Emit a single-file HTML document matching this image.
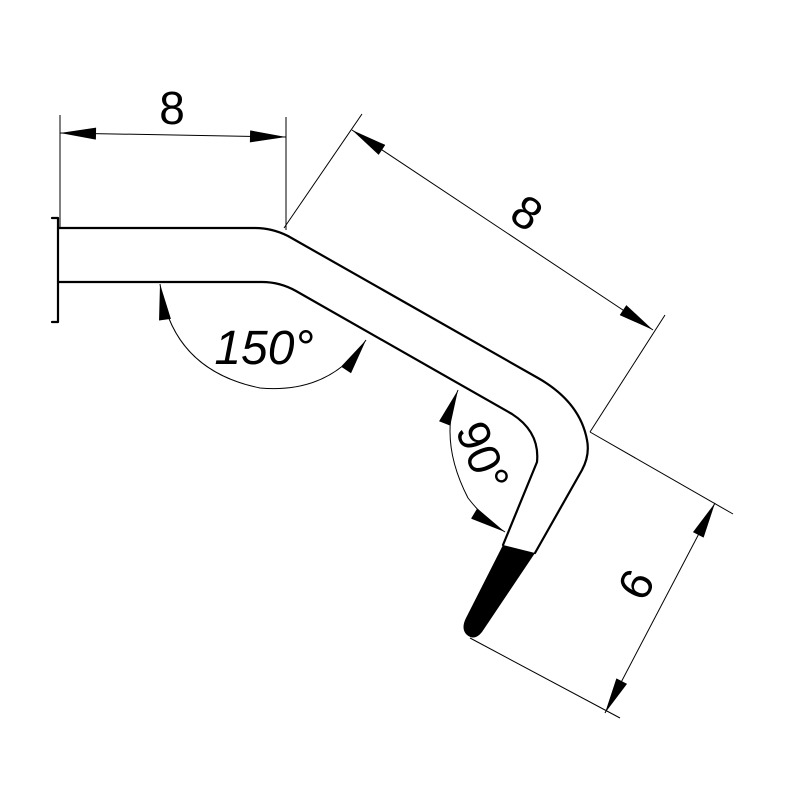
<!DOCTYPE html>
<html><head><style>html,body{margin:0;padding:0;background:#fff}svg{display:block}</style></head>
<body>
<svg width="800" height="800" viewBox="0 0 800 800" xmlns="http://www.w3.org/2000/svg">
<defs>
<marker id="a" viewBox="0 0 12 4" refX="12" refY="2" markerWidth="38" markerHeight="12" markerUnits="userSpaceOnUse" orient="auto-start-reverse">
<path d="M0,0 L12,2 L0,4 z" fill="#000"/>
</marker>
</defs>
<g fill="none" stroke="#000" stroke-width="2.2" stroke-linecap="round">
<path d="M58,228 L255,228 Q272,228 288,236 L538,378 Q580,402 587,440 Q590,455 582,470 L535,553"/>
<path d="M58,282 L262,282 Q280,282 296,291 L512,414 Q540,432 537,462 L503,545"/>
<path d="M58,218 L58,322 M52,218 L58,218 M52,322 L58,322"/>
</g>
<path d="M503,545 L535,553 L482,632 Q474,642 466,634 Q461,628 466,618 Z" fill="#000"/>
<g fill="none" stroke="#000" stroke-width="1">
<line x1="60" y1="115" x2="60" y2="228"/>
<line x1="286" y1="117" x2="286" y2="230"/>
<line x1="60" y1="133" x2="286" y2="137" marker-start="url(#a)" marker-end="url(#a)"/>
<line x1="284" y1="228" x2="362" y2="114"/>
<line x1="590" y1="432" x2="665" y2="315"/>
<line x1="352" y1="130" x2="653" y2="330" marker-start="url(#a)" marker-end="url(#a)"/>
<line x1="590" y1="432" x2="733" y2="514"/>
<line x1="470" y1="638" x2="620" y2="718"/>
<line x1="715" y1="503" x2="605" y2="713" marker-start="url(#a)" marker-end="url(#a)"/>
<path d="M160,284 Q172,370 260,388 Q330,394 366,340" marker-start="url(#a)" marker-end="url(#a)"/>
<path d="M458,390 Q438,440 468,498 Q485,520 505,532" marker-start="url(#a)" marker-end="url(#a)"/>
</g>
<g font-family="Liberation Sans, sans-serif" fill="#000">
<text x="172" y="124" font-size="46" text-anchor="middle">8</text>
<text x="0" y="0" font-size="46" text-anchor="middle" transform="translate(518,226) rotate(34)">8</text>
<text x="0" y="0" font-size="46" text-anchor="middle" transform="translate(650,592) rotate(-62)">6</text>
<text x="264" y="364" font-size="48" font-style="italic" text-anchor="middle">150°</text>
<text x="0" y="0" font-size="46" text-anchor="middle" transform="translate(468,462) rotate(68)">90°</text>
</g>
</svg>
</body></html>
